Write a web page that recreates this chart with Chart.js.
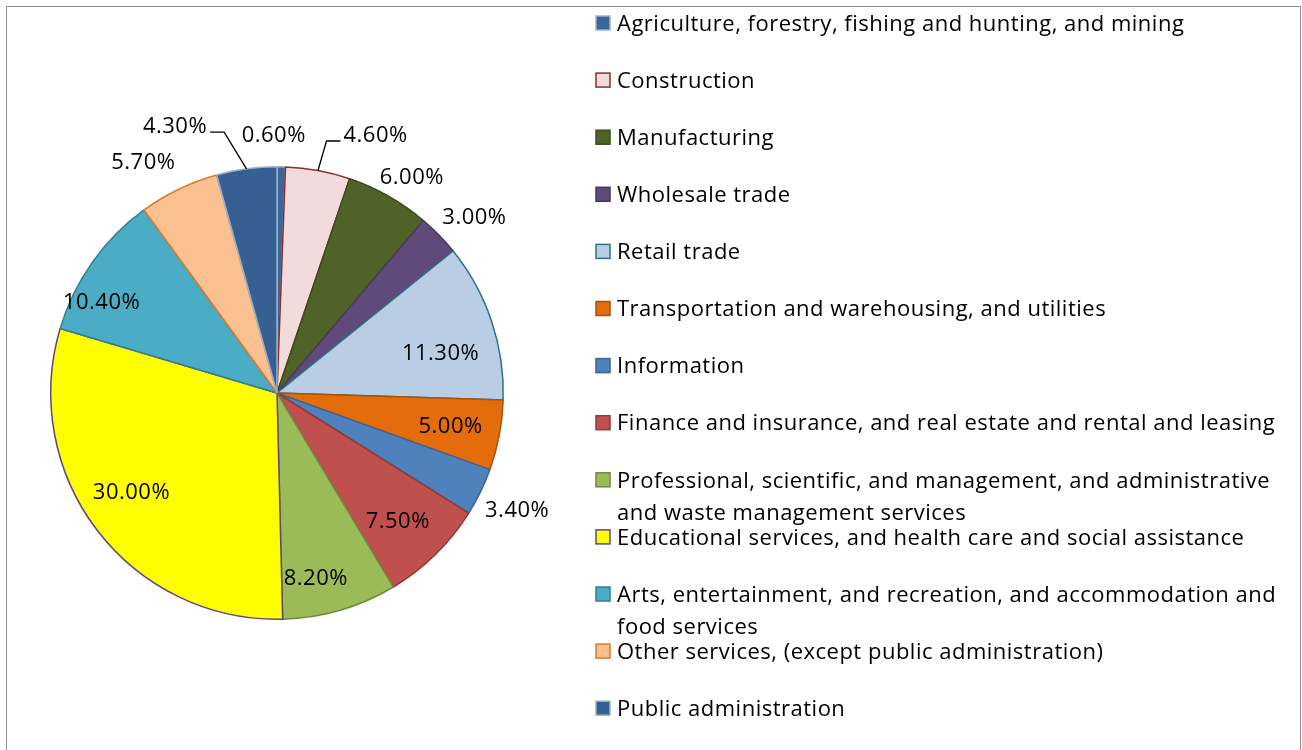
<!DOCTYPE html>
<html>
<head>
<meta charset="utf-8">
<script src="https://cdn.jsdelivr.net/npm/chart.js@4"></script>
<style>
  html, body { margin: 0; padding: 0; background: #fff; overflow: hidden; }
  #wrap { position: relative; width: 1302px; height: 750px; }
  #frame { position: absolute; left: 6px; top: 6px; width: 1293px; height: 800px; border: 1.5px solid #8e8e8e; }
  canvas { position: absolute; left: 0; top: 0; }
</style>
</head>
<body>
<div id="wrap">
  <div id="frame"></div>
  <canvas id="pieChart" width="1302" height="750"></canvas>
</div>
<script>
const categories = [
  'Agriculture, forestry, fishing and hunting, and mining',
  'Construction',
  'Manufacturing',
  'Wholesale trade',
  'Retail trade',
  'Transportation and warehousing, and utilities',
  'Information',
  'Finance and insurance, and real estate and rental and leasing',
  ['Professional, scientific, and management, and administrative', 'and waste management services'],
  'Educational services, and health care and social assistance',
  ['Arts, entertainment, and recreation, and accommodation and', 'food services'],
  'Other services, (except public administration)',
  'Public administration'
];
const shares = [0.6, 4.6, 6.0, 3.0, 11.3, 5.0, 3.4, 7.5, 8.2, 30.0, 10.4, 5.7, 4.3];

const fills = ['#3a6699', '#f2dcdb', '#4f6228', '#604a7b', '#b9cde5', '#e46c0a', '#4f81bd',
  '#c0504d', '#9bbb59', '#ffff00', '#4bacc6', '#fac090', '#376092'];
const edges = ['#9db3cf', '#8b2f2d', '#3d4c1f', '#4a395f', '#2b7487', '#a9520c', '#3b6594',
  '#8e3a38', '#72893f', '#5f497a', '#357e92', '#e0782a', '#9ab1cc'];

// label placement: [radius factor, angle shift in degrees]
const labelPlace = [[1.145, -1.8], [1.225, 10.4], [1.13, 2.3], [1.17, 2.5], [0.745, 4.5], [0.78, -0.4],
  [1.18, 0], [0.776, 1], [0.833, 4.3], [0.777, 3.3], [0.875, -7.7], [1.184, -4.2], [1.267, -13.1]];
const leaders = [1, 12];

const FONT = '22px "Open Sans", "Noto Sans", sans-serif';
const SPACING = '0.5px';

const labelPlugin = {
  id: 'sliceLabels',
  afterDatasetsDraw(chart) {
    const ctx = chart.ctx;
    const meta = chart.getDatasetMeta(0);
    ctx.save();
    ctx.font = FONT;
    ctx.letterSpacing = SPACING;
    ctx.fillStyle = '#000';
    ctx.textAlign = 'center';
    ctx.textBaseline = 'middle';
    meta.data.forEach((arc, i) => {
      const p = arc.getProps(['x', 'y', 'startAngle', 'endAngle', 'outerRadius'], true);
      const mid = (p.startAngle + p.endAngle) / 2;
      const a = mid + labelPlace[i][1] * Math.PI / 180;
      const r = p.outerRadius * labelPlace[i][0];
      const lx = p.x + r * Math.cos(a);
      const ly = p.y + r * Math.sin(a);
      const txt = shares[i].toFixed(2) + '%';
      ctx.fillText(txt, lx, ly + 1.5);
      if (leaders.includes(i)) {
        const w = ctx.measureText(txt).width;
        const ex = p.x + p.outerRadius * Math.cos(mid);
        const ey = p.y + p.outerRadius * Math.sin(mid);
        const right = lx > ex;
        const endX = right ? lx - w / 2 - 3 : lx + w / 2 + 3;
        const elbowX = right ? endX - 14 : endX + 14;
        const elbowY = ly + 7;
        ctx.beginPath();
        ctx.strokeStyle = '#000';
        ctx.lineWidth = 1.3;
        ctx.moveTo(ex, ey);
        ctx.lineTo(elbowX, elbowY);
        ctx.lineTo(endX, elbowY);
        ctx.stroke();
      }
    });
    ctx.restore();
  }
};

const legendPlugin = {
  id: 'sideLegend',
  afterDraw(chart) {
    const ctx = chart.ctx;
    const ds = chart.data.datasets[0];
    ctx.save();
    ctx.font = FONT;
    ctx.letterSpacing = SPACING;
    ctx.textAlign = 'left';
    ctx.textBaseline = 'middle';
    chart.data.labels.forEach((lab, i) => {
      const y = 23 + i * 57.1;
      ctx.fillStyle = ds.backgroundColor[i];
      ctx.fillRect(596, y - 7, 14, 14);
      ctx.strokeStyle = ds.borderColor[i];
      ctx.lineWidth = 1.5;
      ctx.strokeRect(596, y - 7, 14, 14);
      ctx.fillStyle = '#000';
      const lines = Array.isArray(lab) ? lab : [lab];
      lines.forEach((ln, k) => ctx.fillText(ln, 617, y + 1.5 + k * 32));
    });
    ctx.restore();
  }
};

new Chart(document.getElementById('pieChart').getContext('2d'), {
  type: 'pie',
  data: {
    labels: categories,
    datasets: [{
      data: shares,
      backgroundColor: fills,
      borderColor: edges,
      borderWidth: 1.5
    }]
  },
  options: {
    responsive: false,
    animation: false,
    layout: { padding: { left: 50, top: 166, right: 798, bottom: 130 } },
    plugins: {
      legend: { display: false },
      tooltip: { enabled: false },
      title: { display: false }
    }
  },
  plugins: [labelPlugin, legendPlugin]
});
</script>
</body>
</html>
